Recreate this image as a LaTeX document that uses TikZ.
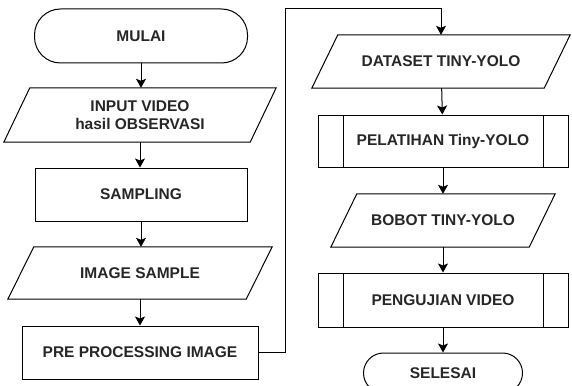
\documentclass[tikz,border=0pt]{standalone}
\usepackage{fontspec}
\setmainfont{Liberation Sans}
\usetikzlibrary{arrows.meta}

\begin{document}
\begin{tikzpicture}[x=1pt, y=-1pt,
		every node/.style={font=\fontsize{15.5}{18}\selectfont\bfseries, text=black!85, align=center},
		term/.style={rectangle, rounded corners=26pt, draw=black, line width=1pt, minimum width=213pt, minimum height=54pt},
		slant/.store in=\ioslant, slant=13pt,
		io/.style={rectangle, minimum height=53pt,
			append after command={\pgfextra{\draw[line width=1pt, line join=miter] ([xshift=\ioslant]\tikzlastnode.north west) -- ([xshift=\ioslant]\tikzlastnode.north east)
				-- ([xshift=-\ioslant]\tikzlastnode.south east) -- ([xshift=-\ioslant]\tikzlastnode.south west) -- cycle;}}},
		proc/.style={rectangle, draw=black, line width=1pt, minimum height=53pt},
		subproc/.style={rectangle, draw=black, line width=1pt, minimum width=250pt, minimum height=53pt,
			path picture={\draw[line width=1pt] ([xshift=25pt]path picture bounding box.north west) -- ([xshift=25pt]path picture bounding box.south west)
				([xshift=-25pt]path picture bounding box.north east) -- ([xshift=-25pt]path picture bounding box.south east);}},
		arr/.style={line width=1pt, -{Stealth[length=9pt, width=10pt, inset=2pt]}}]
		\useasboundingbox (0,0) rectangle (572,385);
		\node[term] (1) at (141,36) {MULAI};
		\node[io, slant=10pt, minimum width=246pt, minimum height=54pt] (2) at (140,115) {INPUT VIDEO\\hasil OBSERVASI};
		\node[proc, minimum width=212pt] (3) at (141,194.5) {SAMPLING};
		\node[io, slant=13pt, minimum width=238pt, minimum height=52pt] (4) at (140,273) {IMAGE SAMPLE};
		\node[proc, minimum width=236pt] (5) at (140,352.5) {PRE PROCESSING IMAGE};
		\node[io, slant=13pt, minimum width=232pt] (6) at (441,61.5) {DATASET TINY-YOLO};
		\node[subproc, minimum height=52pt] (7) at (443,141) {PELATIHAN Tiny-YOLO};
		\node[io, slant=12.5pt, minimum width=198pt] (8) at (443,220.5) {BOBOT TINY-YOLO};
		\node[subproc, minimum height=54pt] (9) at (443,300) {PENGUJIAN VIDEO};
		\node[term, rounded corners=20pt, minimum width=159pt, minimum height=40pt] (10) at (443,373) {SELESAI};
		\coordinate (11) at (285,9);
		
		\draw[arr] (1) -- (1 |- 2.north);
		\draw[arr] (2) -- (2 |- 3.north);
		\draw[arr] (3) -- (3 |- 4.north);
		\draw[arr] (4) -- (4 |- 5.north);
		\draw[arr] (5.east) -| (11) -| (6.north);
		\path (6) edge[arr] (7);
		\path (7) edge[arr] (8);
		\path (8) edge[arr] (9);
		\path (9) edge[arr] (10);
		
	\end{tikzpicture}
\end{document}
